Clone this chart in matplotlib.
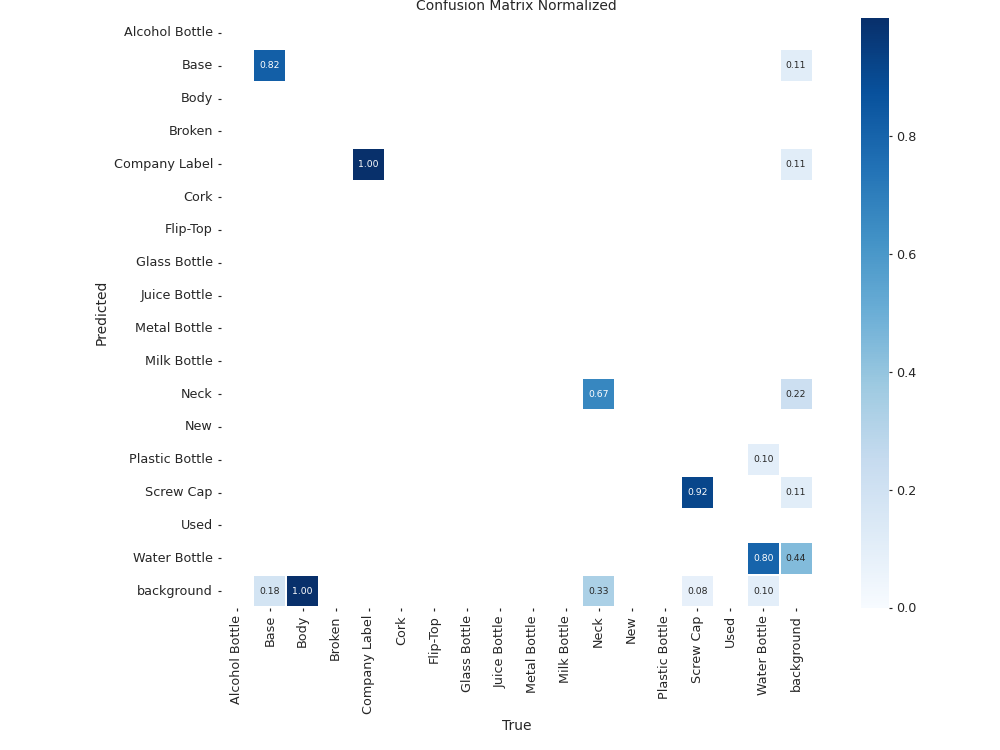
import numpy as np
import matplotlib
matplotlib.use("Agg")
import matplotlib.pyplot as plt
import seaborn as sns

labels = ["Alcohol Bottle", "Base", "Body", "Broken", "Company Label", "Cork", "Flip-Top",
          "Glass Bottle", "Juice Bottle", "Metal Bottle", "Milk Bottle", "Neck", "New",
          "Plastic Bottle", "Screw Cap", "Used", "Water Bottle", "background"]

# (predicted row, true column, value)
row_pred = ["Base", "Base", "Company Label", "Company Label", "Neck", "Neck",
            "Plastic Bottle", "Screw Cap", "Screw Cap", "Water Bottle", "Water Bottle",
            "background", "background", "background", "background", "background"]
col_true = ["Base", "background", "Company Label", "background", "Neck", "background",
            "Water Bottle", "Screw Cap", "background", "Water Bottle", "background",
            "Base", "Body", "Neck", "Screw Cap", "Water Bottle"]
values = [0.818, 0.111, 0.99999, 0.111, 0.667, 0.222,
          0.10, 0.917, 0.111, 0.80, 0.444,
          0.182, 0.99999, 0.333, 0.083, 0.10]

n = len(labels)
mat = np.full((n, n), np.nan)
for r, c, v in zip(row_pred, col_true, values):
    mat[labels.index(r), labels.index(c)] = v

plt.rcParams.update({
    "text.color": "#262626",
    "axes.labelcolor": "#262626",
    "xtick.color": "#262626",
    "ytick.color": "#262626",
    "font.family": ["DejaVu Sans"],
})

fig = plt.figure(figsize=(12, 9), dpi=1000 / 12)
ax = fig.add_axes([0.2205, 0.190, 0.592, 0.788])
cax = fig.add_axes([0.861, 0.190, 0.028, 0.786])
sns.heatmap(mat, ax=ax, cbar_ax=cax, annot=True, annot_kws={"size": 8}, cmap="Blues",
            fmt=".2f", vmin=0.0, xticklabels=labels, yticklabels=labels,
            linewidths=0.3, linecolor="white")
ax.set_facecolor((1, 1, 1))
ax.set_position([0.2205, 0.190, 0.592, 0.788])
ax.tick_params(labelsize=11, length=3, width=1)
cax.tick_params(labelsize=11, length=3, width=1)
ax.set_xlabel("True", fontsize=12)
ax.set_ylabel("Predicted", fontsize=12)
ax.set_title("Confusion Matrix Normalized", fontsize=12)
plt.setp(ax.get_xticklabels(), rotation=90)
plt.setp(ax.get_yticklabels(), rotation=0)
fig.savefig("out.png", dpi=1000 / 12)
